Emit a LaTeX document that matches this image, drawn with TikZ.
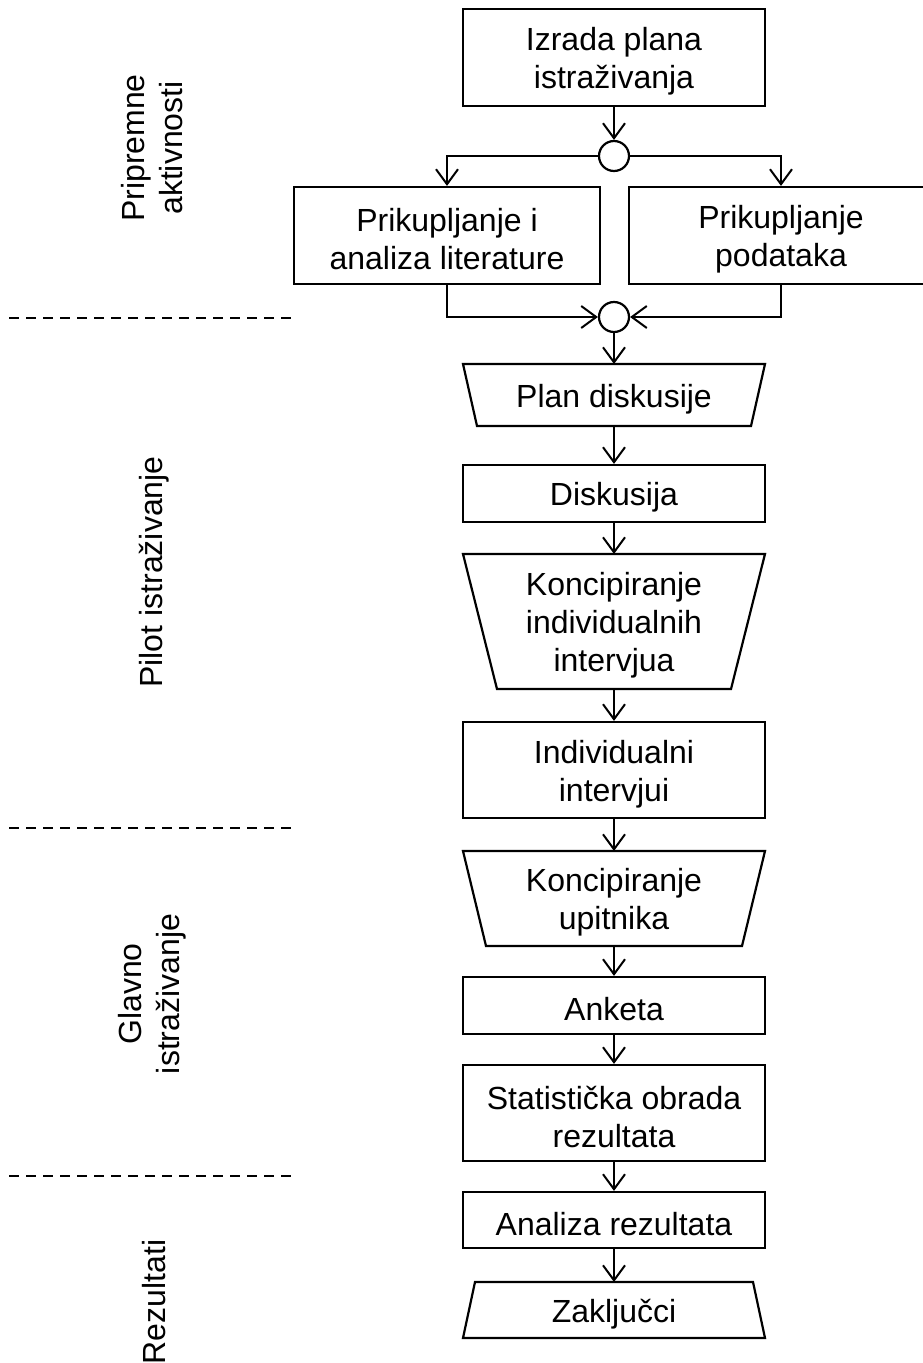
\documentclass[tikz,border=0pt]{standalone}
\usepackage{fontspec}
\setmainfont{Liberation Sans}
\usetikzlibrary{arrows.meta}
\begin{document}
\begin{tikzpicture}[x=1pt,y=-1pt,
  every node/.style={font=\fontsize{32}{38}\selectfont, align=center, inner sep=0pt},
  boxline/.style={line width=2.2pt, line join=miter},
  rbox/.style={draw, boxline, rectangle, minimum width=302pt},
  tbox/.style={rectangle, minimum width=302pt, outer sep=0pt},
  txt/.style={yshift=-4pt},
  junction/.style={draw, boxline, circle, minimum size=30pt, inner sep=0pt},
  conn/.style={line width=2pt, -{Straight Barb[length=15pt,width=22pt,line width=2pt]}},
  sep/.style={line width=2pt, dash pattern=on 10pt off 7pt},
  side/.style={rotate=90}]
\useasboundingbox (0,0) rectangle (922,1363);
\newcommand\trapez[3]{\draw[boxline] ([xshift=#2]#1.north west) -- ([xshift=-#2]#1.north east) -- ([xshift=-#3]#1.south east) -- ([xshift=#3]#1.south west) -- cycle;}

% main column (shapes)
\node[rbox, minimum height=97pt] (izr) at (614,57.5) {};
\node[junction] (c1) at (614,156) {};
\node[rbox, minimum width=306pt, minimum height=97pt] (lit) at (447,235.5) {};
\node[rbox, minimum width=304pt, minimum height=97pt] (pod) at (781,235.5) {};
\node[junction] (c2) at (614,317) {};
\node[tbox, minimum height=62pt] (pd) at (614,395) {};
\node[rbox, minimum height=57pt] (disk) at (614,493.5) {};
\node[tbox, minimum height=135pt] (kii) at (614,621.5) {};
\node[rbox, minimum height=96pt] (ii) at (614,770) {};
\node[tbox, minimum height=95pt] (ku) at (614,898.5) {};
\node[rbox, minimum height=57pt] (ank) at (614,1005.5) {};
\node[rbox, minimum height=96pt] (sor) at (614,1113) {};
\node[rbox, minimum height=56pt] (ar) at (614,1220) {};
\node[tbox, minimum height=56pt] (zak) at (614,1310) {};

\trapez{pd}{0}{14}
\trapez{kii}{0}{34}
\trapez{ku}{0}{23}
\trapez{zak}{12}{0}

% texts
\node[txt] (izrt) at (izr) {Izrada plana\\istraživanja};
\node[txt] (litt) at (lit) {Prikupljanje i\\analiza literature};
\node[txt] (podt) at (pod) {Prikupljanje\\podataka};
\node[txt] (pdt) at (pd) {Plan diskusije};
\node[txt] (diskt) at (disk) {Diskusija};
\node[txt] (kiit) at (kii) {Koncipiranje\\individualnih\\intervjua};
\node[txt] (iit) at (ii) {Individualni\\intervjui};
\node[txt] (kut) at (ku) {Koncipiranje\\upitnika};
\node[txt] (ankt) at (ank) {Anketa};
\node[txt] (sort) at (sor) {Statistička obrada\\rezultata};
\node[txt] (art) at (ar) {Analiza rezultata};
\node[txt] (zakt) at (zak) {Zaključci};

% connectors
\draw[conn] (izr.south) -- (c1.north);
\draw[conn] (c1.west) -| (lit.north);
\draw[conn] (c1.east) -| (pod.north);
\draw[conn] (lit.south) |- (c2.west);
\draw[conn] (pod.south) |- (c2.east);
\draw[conn] (c2.south) -- (pd.north);
\draw[conn] (pd.south) -- (disk.north);
\draw[conn] (disk.south) -- (kii.north);
\draw[conn] (kii.south) -- (ii.north);
\draw[conn] (ii.south) -- (ku.north);
\draw[conn] (ku.south) -- (ank.north);
\draw[conn] (ank.south) -- (sor.north);
\draw[conn] (sor.south) -- (ar.north);
\draw[conn] (ar.south) -- (zak.north);

% separators
\coordinate (s1a) at (9,318); \coordinate (s1b) at (298,318);
\coordinate (s2a) at (9,828); \coordinate (s2b) at (298,828);
\coordinate (s3a) at (9,1176); \coordinate (s3b) at (298,1176);
\draw[sep] (s1a) -- (s1b);
\draw[sep] (s2a) -- (s2b);
\draw[sep] (s3a) -- (s3b);

% phase labels
\node[side] (l1) at (152,148) {Pripremne\\aktivnosti};
\node[side] (l2) at (154,572) {Pilot istraživanje};
\node[side] (l3) at (152,994) {Glavno\\istraživanje};
\node[side] (l4) at (154,1302) {Rezultati};
\end{tikzpicture}
\end{document}
